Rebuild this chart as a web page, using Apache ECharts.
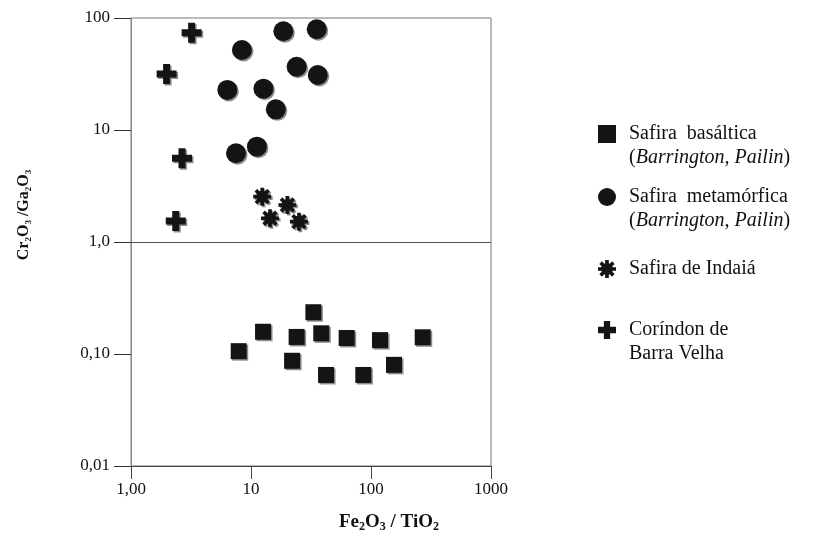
<!DOCTYPE html>
<html>
<head>
<meta charset="utf-8">
<script src="https://cdn.jsdelivr.net/npm/echarts@6/dist/echarts.min.js"></script>
<style>
  html, body { margin: 0; padding: 0; background: #fff; }
  #main { width: 821px; height: 537px; }
</style>
</head>
<body>
<div id="main"></div>
<script>
// Fe2O3/TiO2 vs Cr2O3/Ga2O3, both log axes
var xTicks = [1, 10, 100, 1000];
var xTickLabels = ['1,00', '10', '100', '1000'];
var yTicks = [0.01, 0.1, 1, 10, 100];
var yTickLabels = ['0,01', '0,10', '1,0', '10', '100'];

var basaltica = [
  [7.9, 0.106], [12.6, 0.158], [24.0, 0.142], [33.1, 0.236], [38.5, 0.153],
  [22.0, 0.087], [42.2, 0.065], [62.7, 0.139], [86.3, 0.065], [118.9, 0.133],
  [155.5, 0.080], [269.7, 0.141]
];
var metamorfica = [
  [8.4, 51.8], [18.6, 76.1], [35.3, 79.3], [24.0, 36.7], [36.0, 31.0],
  [6.35, 22.8], [12.7, 23.4], [16.1, 15.3], [7.5, 6.2], [11.2, 7.1]
];
var indaia = [[12.4, 2.54], [20.1, 2.14], [14.4, 1.63], [25.1, 1.52]];
var barraVelha = [[3.2, 73.9], [1.98, 31.6], [2.66, 5.59], [2.36, 1.54]];

var names = ['Safira basáltica', 'Safira metamórfica', 'Safira de Indaiá', 'Coríndon de Barra Velha'];

function lookup(ticks, labels, v) {
  for (var i = 0; i < ticks.length; i++) {
    if (Math.abs(Math.log10(v) - Math.log10(ticks[i])) < 1e-6) return labels[i];
  }
  return '';
}

// notched round blob for the Indaiá marker
function asteriskPath() {
  var pts = [];
  for (var k = 0; k < 8; k++) {
    var a = k * Math.PI / 4;
    var d = [[-0.31, 6.5], [-0.2, 10], [0.2, 10], [0.31, 6.5]];
    d.forEach(function (p) {
      pts.push([10 + p[1] * Math.cos(a + p[0]), 10 + p[1] * Math.sin(a + p[0])]);
    });
  }
  return 'path://M' + pts.map(function (p) { return p[0].toFixed(2) + ',' + p[1].toFixed(2); }).join('L') + 'Z';
}
var crossPath = 'path://M6.5,0H13.5V6.5H20V13.5H13.5V20H6.5V13.5H0V6.5H6.5Z';

var fill = '#141414';
var markStyle = {
  color: fill,
  opacity: 1,
  shadowColor: 'rgba(0,0,0,0.45)',
  shadowBlur: 0,
  shadowOffsetX: 1.5,
  shadowOffsetY: 1.5
};
var serif = 'Liberation Serif';

var chart = echarts.init(document.getElementById('main'));

var legendText = {
  'Safira basáltica': '{e| }\n{a|Safira  basáltica}\n{a|(}{i|Barrington, Pailin}{p|)}',
  'Safira metamórfica': '{e| }\n{a|Safira  metamórfica}\n{a|(}{i|Barrington, Pailin}{p|)}',
  'Safira de Indaiá': '{a|Safira de Indaiá}',
  'Coríndon de Barra Velha': '{e| }\n{a|Coríndon de}\n{a|Barra Velha}'
};
var legendTops = [100, 163, 259, 296];

var legends = names.map(function (n, i) {
  return {
    data: [n],
    left: 598,
    top: legendTops[i],
    padding: 0,
    itemWidth: 18,
    itemHeight: 18,
    selectedMode: false,
    formatter: function (name) { return legendText[name]; },
    textStyle: {
      fontFamily: serif,
      fontSize: 20,
      color: '#111',
      rich: {
        e: { fontSize: 20, lineHeight: 24, fontFamily: serif },
        a: { fontSize: 20, lineHeight: 24, fontFamily: serif, color: '#111', padding: [0, 0, 0, 8] },
        i: { fontSize: 20, lineHeight: 24, fontFamily: serif, color: '#111', fontStyle: 'italic' },
        p: { fontSize: 20, lineHeight: 24, fontFamily: serif, color: '#111' }
      }
    }
  };
});

var option = {
  animation: false,
  backgroundColor: '#fff',
  legend: legends,
  grid: {
    left: 131,
    top: 18,
    right: 330,
    bottom: 71,
    show: true,
    borderColor: '#777',
    borderWidth: 1
  },
  xAxis: {
    type: 'log',
    logBase: 10,
    min: 1,
    max: 1000,
    axisLine: { show: true, lineStyle: { color: '#444', width: 1 } },
    axisTick: { show: true, length: 13, lineStyle: { color: '#444' } },
    axisLabel: {
      margin: 15,
      fontFamily: serif,
      fontSize: 17,
      color: '#111',
      formatter: function (v) { return lookup(xTicks, xTickLabels, v); }
    },
    minorTick: { show: false },
    splitLine: { show: false }
  },
  yAxis: {
    type: 'log',
    logBase: 10,
    min: 0.01,
    max: 100,
    axisLine: { show: true, lineStyle: { color: '#888', width: 1 } },
    axisTick: { show: true, length: 17, lineStyle: { color: '#333' } },
    axisLabel: {
      margin: 21,
      fontFamily: serif,
      fontSize: 17,
      color: '#111',
      formatter: function (v) { return lookup(yTicks, yTickLabels, v); }
    },
    splitLine: { show: false }
  },
  graphic: [
    {
      type: 'text',
      x: 24,
      y: 215,
      rotation: Math.PI / 2,
      style: {
        text: '{b|Cr}{s|2}{b|O}{s|3}{b| /Ga}{s|2}{b|O}{s|3}',
        align: 'center',
        verticalAlign: 'middle',
        rich: {
          b: { fontFamily: serif, fontWeight: 'bold', fontSize: 16, fill: '#111', lineHeight: 18 },
          s: { fontFamily: serif, fontWeight: 'bold', fontSize: 9, fill: '#111', lineHeight: 18, verticalAlign: 'bottom' }
        }
      }
    },
    {
      type: 'text',
      x: 389,
      y: 522,
      style: {
        text: '{b|Fe}{s|2}{b|O}{s|3}{b| / TiO}{s|2}',
        align: 'center',
        verticalAlign: 'middle',
        rich: {
          b: { fontFamily: serif, fontWeight: 'bold', fontSize: 19, fill: '#111', lineHeight: 22 },
          s: { fontFamily: serif, fontWeight: 'bold', fontSize: 12, fill: '#111', lineHeight: 22, verticalAlign: 'bottom' }
        }
      }
    }
  ],
  series: [
    {
      name: names[0],
      type: 'scatter',
      symbol: 'rect',
      symbolSize: 16,
      itemStyle: markStyle,
      data: basaltica,
      markLine: {
        silent: true,
        symbol: 'none',
        label: { show: false },
        lineStyle: { color: '#555', width: 1, type: 'solid' },
        data: [{ yAxis: 1 }]
      }
    },
    {
      name: names[1],
      type: 'scatter',
      symbol: 'circle',
      symbolSize: 20,
      itemStyle: markStyle,
      data: metamorfica
    },
    {
      name: names[2],
      type: 'scatter',
      symbol: asteriskPath(),
      symbolSize: 18,
      itemStyle: markStyle,
      data: indaia
    },
    {
      name: names[3],
      type: 'scatter',
      symbol: crossPath,
      symbolSize: 20,
      itemStyle: markStyle,
      data: barraVelha
    }
  ]
};

chart.setOption(option);
</script>
</body>
</html>
